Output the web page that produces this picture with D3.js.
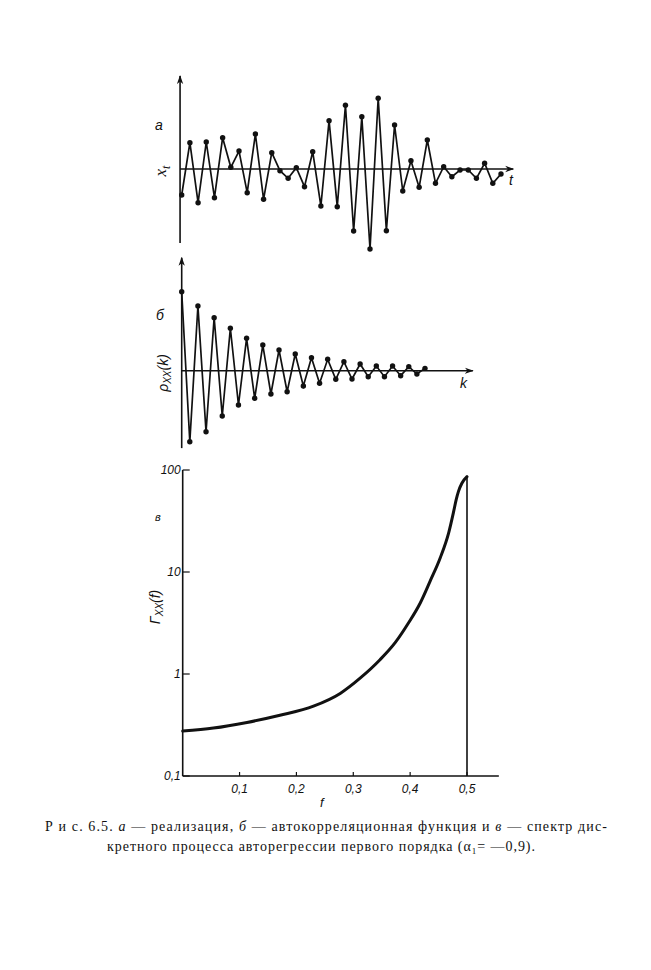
<!DOCTYPE html>
<html>
<head>
<meta charset="utf-8">
<script src="https://cdn.jsdelivr.net/npm/d3@7"></script>
<style>
  html, body { margin: 0; padding: 0; background: #fff; }
  svg { display: block; }
</style>
</head>
<body>
<svg id="chart" width="651" height="970"></svg>
<script>
// ---- Data ----
// Panel a: realisation x_t, t = 1..40
const seriesA = [-2.6, 2.63, -3.37, 2.7, -2.87, 3.13, 0.17, 1.8, -2.37, 3.5,
                 -3.03, 1.63, -0.17, -0.93, 0.13, -1.77, 1.73, -3.7, 4.83, -3.77,
                 6.37, -6.2, 5.23, -8.0, 7.07, -6.17, 4.4, -2.2, 0.83, -1.83,
                 2.9, -1.43, 0.23, -0.77, -0.1, -0.1, -0.93, 0.57, -1.43, -0.5];
// Panel б: autocorrelation rho_xx(k), k = 0..30
const seriesB = [1.0, -0.899, 0.819, -0.772, 0.671, -0.573, 0.537, -0.434, 0.41, -0.349,
                 0.325, -0.295, 0.262, -0.266, 0.211, -0.194, 0.165, -0.159, 0.144, -0.109,
                 0.114, -0.105, 0.085, -0.076, 0.059, -0.076, 0.059, -0.063, 0.051, -0.042, 0.03];
// Panel в: spectrum Gamma_xx(f)
const freqC = [0, 0.054, 0.113, 0.171, 0.230, 0.277, 0.312, 0.347, 0.374, 0.397,
               0.418, 0.435, 0.453, 0.468, 0.476, 0.481, 0.485, 0.491, 0.5];
const specC = [0.276, 0.295, 0.335, 0.394, 0.484, 0.645, 0.91, 1.38, 2.04, 3.16,
               5.0, 8.1, 13.8, 24.5, 38.0, 51.3, 61.7, 74.1, 86];
const xTicksC = [0.1, 0.2, 0.3, 0.4, 0.5];
const xTickLabelsC = ["0,1", "0,2", "0,3", "0,4", "0,5"];
const yTicksC = [0.1, 1, 10, 100];
const yTickLabelsC = ["0,1", "1", "10", "100"];

const svg = d3.select("#chart");
const ink = "#111";

svg.append("defs").append("marker")
  .attr("id", "arrow").attr("viewBox", "0 0 10 10")
  .attr("refX", 9).attr("refY", 5)
  .attr("markerWidth", 9).attr("markerHeight", 9)
  .attr("markerUnits", "userSpaceOnUse")
  .attr("orient", "auto")
  .append("path").attr("d", "M0,1.5 L10,5 L0,8.5 L3,5 Z").attr("fill", ink);

function axisLine(g, x1, y1, x2, y2, arrow, w) {
  const l = g.append("line").attr("x1", x1).attr("y1", y1).attr("x2", x2).attr("y2", y2)
    .attr("stroke", ink).attr("stroke-width", w || 1.6);
  if (arrow) l.attr("marker-end", "url(#arrow)");
  return l;
}

// ---------------- Panel a ----------------
const xA = d3.scaleLinear().domain([0, 39]).range([181.7, 501]);
const yA = d3.scaleLinear().domain([-8, 8]).range([249, 89]);
const gA = svg.append("g");
axisLine(gA, xA(-0.2), yA(-7.4), xA(-0.2), yA(9.3), true);
axisLine(gA, xA(-0.2), yA(0), xA(40.5), yA(0), true);
gA.append("path").datum(seriesA)
  .attr("d", d3.line().x((d, i) => xA(i)).y(d => yA(d)))
  .attr("fill", "none").attr("stroke", ink).attr("stroke-width", 1.7).attr("stroke-linejoin", "miter");
gA.selectAll("circle").data(seriesA).join("circle")
  .attr("cx", (d, i) => xA(i)).attr("cy", d => yA(d)).attr("r", 2.7).attr("fill", ink);
gA.append("text").attr("x", 155).attr("y", 130).attr("font-family", "Liberation Sans, Arial, sans-serif")
  .attr("font-style", "italic").attr("font-size", 14).attr("fill", ink).text("a");
gA.append("text").attr("x", 509).attr("y", 185).attr("font-family", "Liberation Sans, Arial, sans-serif")
  .attr("font-style", "italic").attr("font-size", 14).attr("fill", ink).text("t");
const xtLab = gA.append("text").attr("transform", "translate(166,171) rotate(-90)")
  .attr("text-anchor", "middle").attr("font-family", "Liberation Serif, serif")
  .attr("font-style", "italic").attr("font-size", 17).attr("fill", ink);
xtLab.append("tspan").text("x");
xtLab.append("tspan").attr("font-size", 12).attr("dy", 4).text("t");

// ---------------- Panel б ----------------
const xB = d3.scaleLinear().domain([0, 30]).range([181.7, 425]);
const yB = d3.scaleLinear().domain([-1, 1]).range([449.7, 291.7]);
const gB = svg.append("g");
axisLine(gB, xB(0), yB(-0.98), xB(0), yB(1.43), true);
axisLine(gB, xB(0), yB(0), xB(35.9), yB(0), true);
gB.append("path").datum(seriesB)
  .attr("d", d3.line().x((d, i) => xB(i)).y(d => yB(d)))
  .attr("fill", "none").attr("stroke", ink).attr("stroke-width", 1.7);
gB.selectAll("circle").data(seriesB).join("circle")
  .attr("cx", (d, i) => xB(i)).attr("cy", d => yB(d)).attr("r", 2.7).attr("fill", ink);
gB.append("text").attr("x", 156).attr("y", 320).attr("font-family", "Liberation Sans, Arial, sans-serif")
  .attr("font-style", "italic").attr("font-size", 14).attr("fill", ink).text("б");
gB.append("text").attr("x", 460).attr("y", 388).attr("font-family", "Liberation Sans, Arial, sans-serif")
  .attr("font-style", "italic").attr("font-size", 14).attr("fill", ink).text("k");
const rhoLab = gB.append("text").attr("transform", "translate(168,373) rotate(-90)")
  .attr("text-anchor", "middle").attr("font-family", "Liberation Sans, Arial, sans-serif")
  .attr("font-style", "italic").attr("font-size", 14).attr("fill", ink);
rhoLab.append("tspan").text("ρ");
rhoLab.append("tspan").attr("font-size", 10).attr("dy", 3).text("XX");
rhoLab.append("tspan").attr("dy", -3).text("(k)");

// ---------------- Panel в ----------------
const xC = d3.scaleLinear().domain([0, 0.5]).range([182.7, 467]);
const yC = d3.scaleLog().domain([0.1, 100]).range([776, 470]);
const gC = svg.append("g");
axisLine(gC, xC(0), yC(0.1), xC(0), yC(100), false, 1.6);
axisLine(gC, xC(0), yC(0.1), xC(0.556), yC(0.1), false, 1.6);
gC.selectAll("line.xt").data(xTicksC).join("line").attr("class", "xt")
  .attr("x1", d => xC(d)).attr("x2", d => xC(d))
  .attr("y1", yC(0.1)).attr("y2", yC(0.1) - 4).attr("stroke", ink).attr("stroke-width", 1.2);
gC.selectAll("text.xtl").data(xTicksC).join("text").attr("class", "xtl")
  .attr("x", d => xC(d)).attr("y", yC(0.1) + 17).attr("text-anchor", "middle")
  .attr("font-family", "Liberation Sans, Arial, sans-serif").attr("font-style", "italic")
  .attr("font-size", 12).attr("fill", ink).text((d, i) => xTickLabelsC[i]);
gC.selectAll("line.yt").data(yTicksC).join("line").attr("class", "yt")
  .attr("x1", xC(0)).attr("x2", xC(0) + 7)
  .attr("y1", d => yC(d)).attr("y2", d => yC(d)).attr("stroke", ink).attr("stroke-width", 1.2);
gC.selectAll("text.ytl").data(yTicksC).join("text").attr("class", "ytl")
  .attr("x", xC(0) - 2).attr("y", d => yC(d) + 4).attr("text-anchor", "end")
  .attr("font-family", "Liberation Sans, Arial, sans-serif").attr("font-style", "italic")
  .attr("font-size", 12).attr("fill", ink).text((d, i) => yTickLabelsC[i]);
const specData = freqC.map((f, i) => [f, specC[i]]);
gC.append("path").datum(specData)
  .attr("d", d3.line().x(d => xC(d[0])).y(d => yC(d[1])).curve(d3.curveMonotoneX))
  .attr("fill", "none").attr("stroke", ink).attr("stroke-width", 3)
  .attr("stroke-linecap", "round");
axisLine(gC, xC(0.5), yC(specC[specC.length - 1]), xC(0.5), yC(0.1), false, 1.6);
gC.append("text").attr("x", 155).attr("y", 521).attr("font-family", "Liberation Sans, Arial, sans-serif")
  .attr("font-style", "italic").attr("font-size", 11).attr("fill", ink).text("в");
gC.append("text").attr("x", 320).attr("y", 807).attr("font-family", "Liberation Sans, Arial, sans-serif")
  .attr("font-style", "italic").attr("font-size", 13).attr("fill", ink).text("f");
const gamLab = gC.append("text").attr("transform", "translate(160,607) rotate(-90)")
  .attr("text-anchor", "middle").attr("font-family", "Liberation Sans, Arial, sans-serif")
  .attr("font-style", "italic").attr("font-size", 14).attr("fill", ink);
gamLab.append("tspan").text("Γ");
gamLab.append("tspan").attr("font-size", 10).attr("dy", 3).text("XX");
gamLab.append("tspan").attr("dy", -3).text("(f)");

// ---------------- Caption ----------------
const cap1 = svg.append("text").attr("x", 45).attr("y", 831)
  .attr("font-family", "Liberation Serif, serif").attr("font-size", 14).attr("fill", ink)
  .attr("textLength", 562).attr("lengthAdjust", "spacing");
cap1.append("tspan").text("Р и с.  6.5. ");
cap1.append("tspan").attr("font-style", "italic").text("а");
cap1.append("tspan").text(" — реализация, ");
cap1.append("tspan").attr("font-style", "italic").text("б");
cap1.append("tspan").text(" — автокорреляционная функция  и  ");
cap1.append("tspan").attr("font-style", "italic").text("в");
cap1.append("tspan").text(" — спектр дис-");
const cap2 = svg.append("text").attr("x", 107).attr("y", 851)
  .attr("font-family", "Liberation Serif, serif").attr("font-size", 14).attr("fill", ink)
  .attr("textLength", 428).attr("lengthAdjust", "spacing");
cap2.append("tspan").text("кретного процесса авторегрессии первого порядка (α");
cap2.append("tspan").attr("font-size", 9).attr("dy", 3).text("1");
cap2.append("tspan").attr("dy", -3).text("= —0,9).");
</script>
</body>
</html>
